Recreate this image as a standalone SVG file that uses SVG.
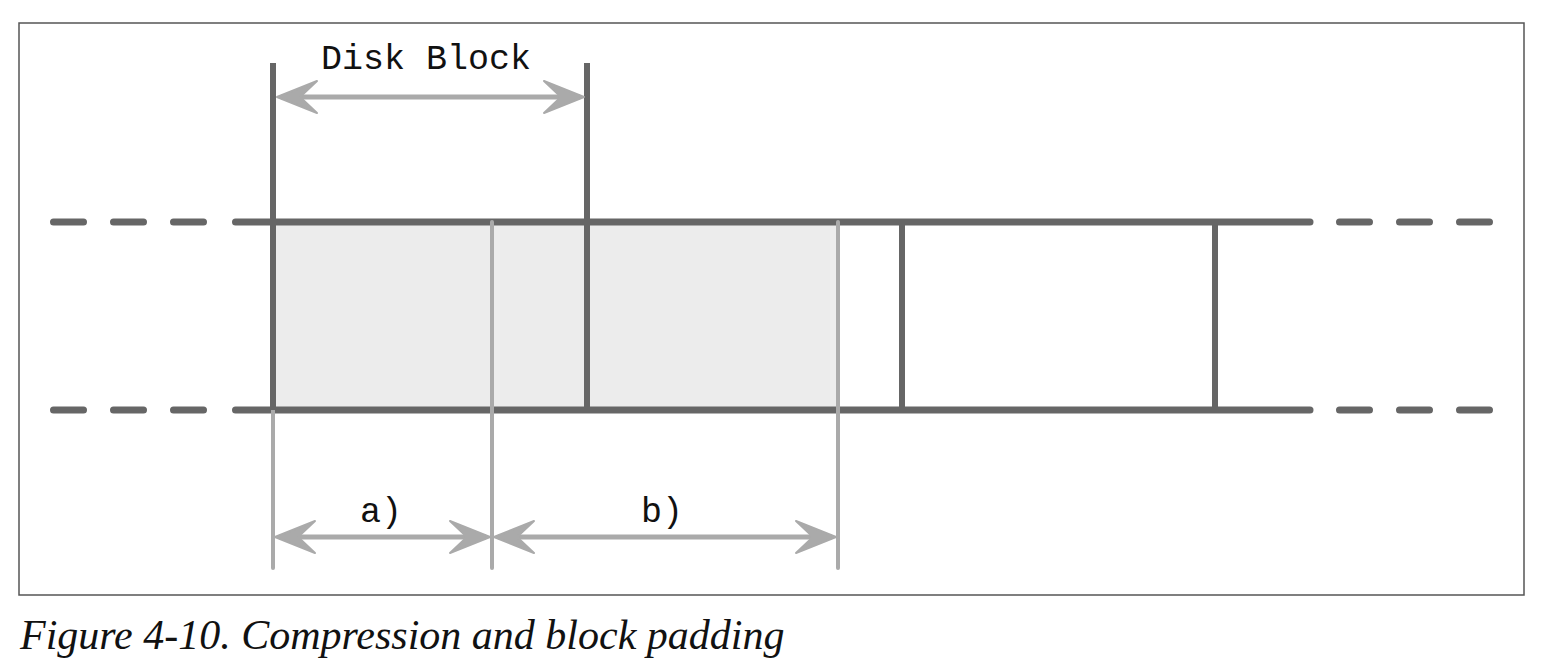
<svg xmlns="http://www.w3.org/2000/svg" width="1548" height="670" viewBox="0 0 1548 670">
<style>
.frame{fill:#ffffff;stroke:#555555;stroke-width:1.5}
.rail{stroke:#666666;stroke-width:7;stroke-linecap:round;fill:none}
.dash{stroke:#666666;stroke-width:7;stroke-linecap:round;fill:none;stroke-dasharray:30 30}
.div{stroke:#666666;stroke-width:6;fill:none}
.guide{stroke:#aaaaaa;stroke-width:4;fill:none;stroke-linecap:round}
.dim{stroke:#aaaaaa;stroke-width:5;fill:none}
.lbl{font-family:"Liberation Mono","DejaVu Sans Mono",monospace;font-size:35px;fill:#111111;text-anchor:middle}
.cap{font-family:"Liberation Serif","DejaVu Serif",serif;font-style:italic;font-size:42px;fill:#111111}
</style>
<defs>
<marker id="ah" markerUnits="userSpaceOnUse" viewBox="-2 -19 44 38" markerWidth="44" markerHeight="38" refX="36" refY="0" orient="auto-start-reverse">
<path d="M0,-16 L40,0 L0,16 L17,0 Z" fill="#aaaaaa" stroke="#aaaaaa" stroke-width="2" stroke-linejoin="round"/>
</marker>
</defs>
<rect class="frame" x="19" y="23" width="1505" height="572"/>
<g id="shaded">
<rect x="273" y="222" width="565" height="188" fill="#ececec"/>
</g>
<g id="rails">
<line class="dash" x1="53.5" y1="222" x2="215" y2="222"/>
<line class="dash" x1="53.5" y1="410" x2="215" y2="410"/>
<line class="rail" x1="235.5" y1="222" x2="1310" y2="222"/>
<line class="rail" x1="235.5" y1="410" x2="1310" y2="410"/>
<line class="dash" x1="1339.5" y1="222" x2="1500" y2="222"/>
<line class="dash" x1="1339.5" y1="410" x2="1500" y2="410"/>
</g>
<g id="guides">
<line class="guide" x1="273" y1="410" x2="273" y2="568"/>
<line class="guide" x1="492" y1="222" x2="492" y2="568"/>
<line class="guide" x1="838" y1="222" x2="838" y2="568"/>
</g>
<g id="dividers">
<line class="div" x1="273" y1="63" x2="273" y2="410"/>
<line class="div" x1="587" y1="63" x2="587" y2="410"/>
<line class="div" x1="902" y1="222" x2="902" y2="410"/>
<line class="div" x1="1215" y1="222" x2="1215" y2="410"/>
</g>
<g id="connectors">
<line class="dim" x1="281" y1="97" x2="580" y2="97" marker-start="url(#ah)" marker-end="url(#ah)"/>
<line class="dim" x1="279" y1="537" x2="486" y2="537" marker-start="url(#ah)" marker-end="url(#ah)"/>
<line class="dim" x1="498" y1="537" x2="832" y2="537" marker-start="url(#ah)" marker-end="url(#ah)"/>
</g>
<g id="label-disk"><text class="lbl" x="426" y="69">Disk Block</text></g>
<g id="label-a"><text class="lbl" x="381" y="522">a)</text></g>
<g id="label-b"><text class="lbl" x="662" y="522">b)</text></g>
<text class="cap" x="20" y="649">Figure 4-10. Compression and block padding</text>
</svg>
